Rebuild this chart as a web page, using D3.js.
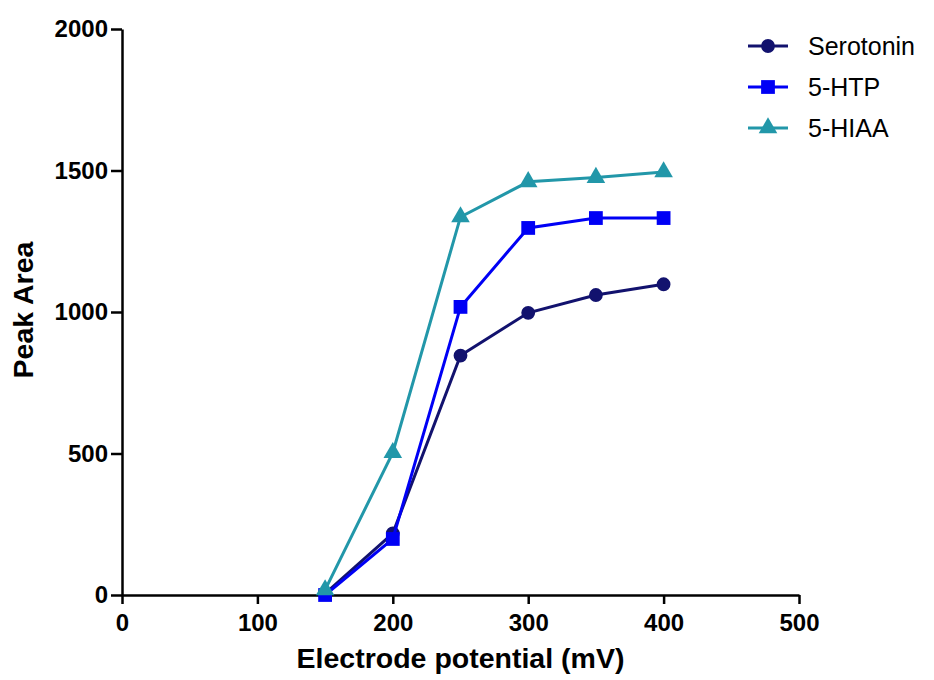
<!DOCTYPE html>
<html>
<head>
<meta charset="utf-8">
<script src="https://cdn.jsdelivr.net/npm/d3@7"></script>
<style>
  body { margin: 0; background: #fff; }
  svg text { font-family: "Liberation Sans", Arial, sans-serif; }
</style>
</head>
<body>
<div id="vis"></div>
<script>
// chart size
const width = 934;
const height = 680;

// data
const potentials = [150, 200, 250, 300, 350, 400];
const serotonin = [5, 218, 846, 997, 1060, 1098];
const htp = [0, 198, 1018, 1297, 1332, 1332];
const hiaa = [18, 503, 1336, 1460, 1475, 1495];
const xTicks = [0, 100, 200, 300, 400, 500];
const yTicks = [0, 500, 1000, 1500, 2000];

const series = [
    { name: 'Serotonin', values: serotonin, colour: '#12126e', symbol: d3.symbolCircle, size: 150 },
    { name: '5-HTP', values: htp, colour: '#0000f5', symbol: d3.symbolSquare, size: 190 },
    { name: '5-HIAA', values: hiaa, colour: '#2297a9', symbol: d3.symbolTriangle, size: 150 }
];

const margin = { top: 29, left: 122, right: 135, bottom: 85 };

let svg = d3.select('#vis')
    .append('svg')
    .attr('width', width)
    .attr('height', height);

let xScale = d3.scaleLinear()
    .domain([0, 500])
    .range([margin.left, width - margin.right]);

let yScale = d3.scaleLinear()
    .domain([0, 2000])
    .range([height - margin.bottom, margin.top]);

// axes
let xAxis = svg.append('g')
    .attr('transform', `translate(0,${height - margin.bottom})`)
    .call(d3.axisBottom(xScale).tickValues(xTicks).tickFormat(d3.format('d'))
        .tickSize(9).tickPadding(10).tickSizeOuter(0));

let yAxis = svg.append('g')
    .attr('transform', `translate(${margin.left},0)`)
    .call(d3.axisLeft(yScale).tickValues(yTicks).tickFormat(d3.format('d'))
        .tickSize(11).tickPadding(3).tickSizeOuter(0));

[xAxis, yAxis].forEach(ax => {
    ax.attr('font-size', null).attr('font-family', null);
    ax.select('.domain').attr('stroke', '#000').attr('stroke-width', 2.5);
    ax.selectAll('.tick line').attr('stroke', '#000').attr('stroke-width', 2.5);
    ax.selectAll('.tick text')
        .attr('fill', '#000')
        .style('font-size', '24px')
        .style('font-weight', 'bold');
});

// axis titles
svg.append('text')
    .attr('x', (margin.left + width - margin.right) / 2)
    .attr('y', 668)
    .attr('text-anchor', 'middle')
    .style('font-size', '28.5px')
    .style('font-weight', 'bold')
    .text('Electrode potential (mV)');

svg.append('text')
    .attr('transform', `translate(33,${yScale(1000) - 2}) rotate(-90)`)
    .attr('text-anchor', 'middle')
    .style('font-size', '28.5px')
    .style('font-weight', 'bold')
    .text('Peak Area');

// lines and markers
let line = d3.line()
    .x((d, i) => xScale(potentials[i]))
    .y(d => yScale(d));

series.forEach(s => {
    svg.append('path')
        .datum(s.values)
        .attr('fill', 'none')
        .attr('stroke', s.colour)
        .attr('stroke-width', 3)
        .attr('d', line);

    svg.selectAll(null)
        .data(s.values)
        .join('path')
        .attr('transform', (d, i) => `translate(${xScale(potentials[i])},${yScale(d)})`)
        .attr('d', d3.symbol().type(s.symbol).size(s.size))
        .attr('fill', s.colour);
});

// legend
let legend = svg.append('g')
    .attr('transform', 'translate(748,46)');

series.forEach((s, i) => {
    let row = legend.append('g').attr('transform', `translate(0,${i * 41})`);
    row.append('line')
        .attr('x1', 0).attr('x2', 40)
        .attr('stroke', s.colour)
        .attr('stroke-width', 3);
    row.append('path')
        .attr('transform', 'translate(20,0)')
        .attr('d', d3.symbol().type(s.symbol).size(s.size))
        .attr('fill', s.colour);
    row.append('text')
        .attr('x', 60)
        .attr('y', 9)
        .style('font-size', '25px')
        .attr('fill', '#000')
        .text(s.name);
});
</script>
</body>
</html>
